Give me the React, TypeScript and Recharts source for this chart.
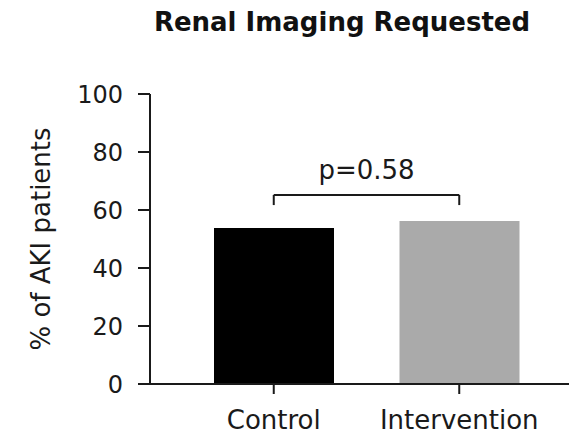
import {
  BarChart,
  Bar,
  Cell,
  XAxis,
  YAxis,
  ReferenceLine,
} from "recharts";

const groups = ["Control", "Intervention"];
const percentAKI = [53.8, 56.2];
const barColors = ["#000000", "#aaaaaa"];
const yTicks = [0, 20, 40, 60, 80, 100];

const pLabel = "p=0.58";
const bracketTop = 65.2;
const bracketFoot = 61.7;

const data = groups.map((g, i) => ({ name: g, pct: percentAKI[i] }));

const font = "'DejaVu Sans', sans-serif";

function RenalImagingChart() {
  return (
    <div
      style={{
        position: "absolute",
        left: 0,
        top: 0,
        width: 569,
        height: 436,
        background: "#fff",
        fontFamily: font,
      }}
    >
      <div
        style={{
          position: "absolute",
          left: 142,
          width: 400,
          top: 7,
          textAlign: "center",
          fontWeight: "bold",
          fontSize: 26,
          color: "#111",
        }}
      >
        Renal Imaging Requested
      </div>
      <BarChart
        width={569}
        height={436}
        data={data}
        margin={{ top: 94, right: 0, left: 0, bottom: 0 }}
      >
        <XAxis
          dataKey="name"
          height={52}
          padding={{ left: 31, right: 17 }}
          tickSize={10}
          tickMargin={17}
          stroke="#1a1a1a"
          strokeWidth={2}
          tick={{ fill: "#1a1a1a", fontSize: 26, fontFamily: font }}
        />
        <YAxis
          width={150}
          domain={[0, 100]}
          ticks={yTicks}
          interval={0}
          tickSize={12}
          tickMargin={15}
          stroke="#1a1a1a"
          strokeWidth={2}
          tick={{ fill: "#1a1a1a", fontSize: 24, fontFamily: font }}
          label={{
            value: "% of AKI patients",
            angle: -90,
            position: "insideLeft",
            dx: 36,
            style: {
              fill: "#1a1a1a",
              fontSize: 26,
              fontFamily: font,
              textAnchor: "middle",
            },
          }}
        />
        <Bar dataKey="pct" barSize={120} isAnimationActive={false}>
          {data.map((d, i) => (
            <Cell key={d.name} fill={barColors[i]} />
          ))}
        </Bar>
        <ReferenceLine
          segment={[
            { x: groups[0], y: bracketTop },
            { x: groups[1], y: bracketTop },
          ]}
          stroke="#1a1a1a"
          strokeWidth={2}
          label={{
            value: pLabel,
            position: "top",
            offset: 16,
            fill: "#1a1a1a",
            fontSize: 26,
            fontFamily: font,
          }}
        />
        <ReferenceLine
          segment={[
            { x: groups[0], y: bracketTop },
            { x: groups[0], y: bracketFoot },
          ]}
          stroke="#1a1a1a"
          strokeWidth={2}
        />
        <ReferenceLine
          segment={[
            { x: groups[1], y: bracketTop },
            { x: groups[1], y: bracketFoot },
          ]}
          stroke="#1a1a1a"
          strokeWidth={2}
        />
      </BarChart>
    </div>
  );
}

export default function App() {
  return <RenalImagingChart />;
}
